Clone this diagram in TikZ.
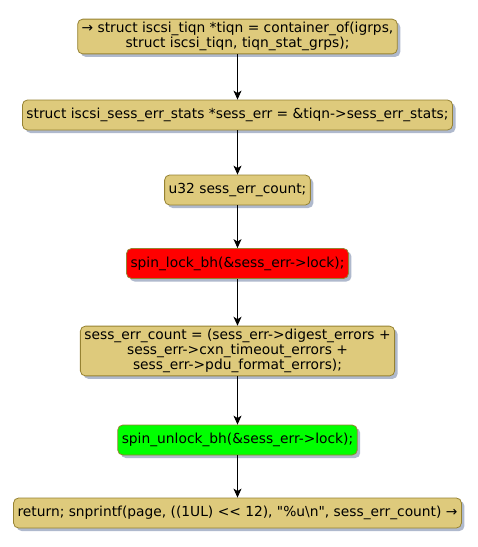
\documentclass[tikz,border=0pt]{standalone}
\usepackage{fontspec}
\setmainfont{DejaVu Sans}
\usetikzlibrary{arrows.meta,shadows}

\definecolor{actfill}{RGB}{222,202,124}
\definecolor{actline}{RGB}{150,130,50}
\definecolor{shadowc}{RGB}{175,185,205}

\tikzset{
    act/.style={draw=actline, fill=actfill, rounded corners=5pt, line width=0.8pt,
        font=\fontsize{13.8}{15}\selectfont, align=center, inner xsep=4pt,
        inner ysep=3pt, minimum height=30pt,
        drop shadow={shadow xshift=3pt, shadow yshift=-3pt, fill=shadowc, opacity=1}},
    flow/.style={-{Stealth[length=9pt,width=8pt,inset=2.5pt]}, line width=0.9pt}
}

\begin{document}
\begin{tikzpicture}[x=1pt,y=-1pt]
    \useasboundingbox (0,0) rectangle (478,547);

    \node[act] (tiqn) at (237.5,36.5) {→ struct iscsi\_tiqn *tiqn = container\_of(igrps,\\struct iscsi\_tiqn, tiqn\_stat\_grps);};
    \node[act] (stats) at (237.5,115) {struct iscsi\_sess\_err\_stats *sess\_err = \&tiqn->sess\_err\_stats;};
    \node[act] (count) at (237.5,190) {u32 sess\_err\_count;};
    \node[act, fill=red] (lock) at (237.5,263.5) {spin\_lock\_bh(\&sess\_err->lock);};
    \node[act] (sum) at (237.5,351) {sess\_err\_count = (sess\_err->digest\_errors +\\sess\_err->cxn\_timeout\_errors +\\sess\_err->pdu\_format\_errors);};
    \node[act, fill=green] (unlock) at (237.5,440) {spin\_unlock\_bh(\&sess\_err->lock);};
    \node[act] (ret) at (237.5,513) {return; snprintf(page, ((1UL) {<}{<} 12), \textquotedbl\%u\textbackslash n\textquotedbl, sess\_err\_count) →};

    \draw[flow] (tiqn) -- (stats);
    \draw[flow] (stats) -- (count);
    \draw[flow] (count) -- (lock);
    \draw[flow] (lock) -- (sum);
    \draw[flow] (sum) -- (unlock);
    \draw[flow] (unlock) -- (ret);

\end{tikzpicture}
\end{document}
